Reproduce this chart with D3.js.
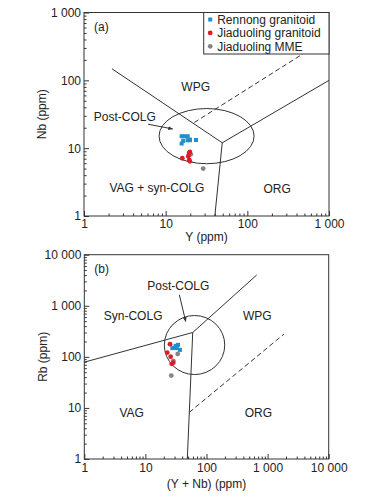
<!DOCTYPE html>
<html>
<head>
<meta charset="utf-8">
<script src="https://cdn.jsdelivr.net/npm/d3@7"></script>
<style>
  body { margin: 0; background: #fff; }
  svg { display: block; font-family: "Liberation Sans", Arial, sans-serif; }
</style>
</head>
<body>
<div id="chart"></div>
<script>
// ---- data ----
const seriesNames = ['Rennong granitoid', 'Jiaduoling granitoid', 'Jiaduoling MME'];

// panel (a): Y (ppm) vs Nb (ppm)
const rennongA = [[15.7, 15], [16.9, 15], [18.6, 15], [19.8, 13.4], [15.7, 11.7],
  [16.4, 12.8], [18.6, 13.1], [19.8, 13.1], [23.5, 13.2]];
const jiaduolingA = [[16, 7.1], [19.4, 8.5], [19.8, 8.8], [18.9, 7.6], [19.4, 6.7], [19.8, 6.4]];
const mmeA = [[20.3, 8.1], [28.8, 5.0]];

// panel (b): (Y + Nb) (ppm) vs Rb (ppm)
const rennongB = [[27.6, 148], [29.5, 150], [31.3, 164], [32.5, 148], [34.2, 172], [36.8, 137]];
const jiaduolingB = [[25.3, 177], [22.8, 121], [25.9, 101], [26.9, 73], [28.6, 77]];
const mmeB = [[33.8, 114], [28.6, 83.5], [26.5, 43]];

// field boundaries
const solidA = [
  [[2.2, 148], [49.3, 12]],
  [[49.3, 12], [1000, 100]],
  [[49.3, 12], [40, 1]],
];
const dashedA = [[22.4, 23.9], [1000, 430]];
const ellipseA = { xMin: 8.3, xMax: 121, yMin: 5.9, yMax: 38.4 };
const arrowA = [[6.1, 22.5], [12.2, 19.2]];

const solidB = [
  [[1, 78.7], [59.5, 300]],
  [[59.5, 300], [663, 4000]],
  [[59.5, 300], [48.5, 1]],
];
const dashedB = [[52.3, 8.2], [1854, 279]];
const ellipseB = { xMin: 20.4, xMax: 199, yMin: 45, yMax: 645 };
const arrowB = [[35.9, 1643], [45.7, 492]];

const fieldLabelsA = [
  { text: 'WPG', x: 23.3, y: 81.5 },
  { text: 'VAG + syn-COLG', x: 7.8, y: 2.6 },
  { text: 'ORG', x: 232, y: 2.55 },
  { text: 'Post-COLG', x: 3.16, y: 28.9 },
];
const fieldLabelsB = [
  { text: 'Syn-COLG', x: 6.3, y: 637 },
  { text: 'WPG', x: 678, y: 637 },
  { text: 'VAG', x: 5.97, y: 8.1 },
  { text: 'ORG', x: 705, y: 8.1 },
  { text: 'Post-COLG', x: 34.5, y: 2466 },
];

const ticksA_X = [1, 10, 100, 1000];
const ticksA_Y = [1, 10, 100, 1000];
const ticksB_X = [1, 10, 100, 1000, 10000];
const ticksB_Y = [1, 10, 100, 1000, 10000];

// ---- drawing ----
const colors = ['#1e8fd2', '#dc1e24', '#858585'];
const lineColor = '#333';
const textColor = '#222';
const W = 365;
const H = 498;

const svg = d3.select('#chart').append('svg')
  .attr('width', W)
  .attr('height', H);

svg.append('defs').append('marker')
  .attr('id', 'arrowhead')
  .attr('viewBox', '0 0 10 10')
  .attr('refX', 9)
  .attr('refY', 5)
  .attr('markerWidth', 5)
  .attr('markerHeight', 5)
  .attr('orient', 'auto')
  .append('path')
  .attr('d', 'M0,1L10,5L0,9Z')
  .attr('fill', lineColor);

const fmt = (d) => d3.format(',')(d).replace(/,/g, ' ');

function minorTicks(domain) {
  const out = [];
  for (let p = domain[0]; p < domain[1]; p *= 10) {
    for (let k = 2; k <= 9; k++) out.push(p * k);
  }
  return out;
}

function drawPanel(cfg) {
  const x = d3.scaleLog().domain(cfg.xDomain).range([cfg.left, cfg.right]);
  const y = d3.scaleLog().domain(cfg.yDomain).range([cfg.bottom, cfg.top]);
  const g = svg.append('g');

  // x axis
  g.append('g')
    .attr('transform', `translate(0,${cfg.bottom})`)
    .call(d3.axisBottom(x).tickValues(minorTicks(cfg.xDomain)).tickSize(-2.5).tickFormat(''))
    .call((a) => a.select('.domain').remove());
  g.append('g')
    .attr('transform', `translate(0,${cfg.bottom})`)
    .call(d3.axisBottom(x).tickValues(cfg.xTicks).tickSize(-5).tickPadding(cfg.xPad).tickFormat(fmt))
    .call((a) => a.select('.domain').remove());

  // y axis
  g.append('g')
    .attr('transform', `translate(${cfg.left},0)`)
    .call(d3.axisLeft(y).tickValues(minorTicks(cfg.yDomain)).tickSize(-2.5).tickFormat(''))
    .call((a) => a.select('.domain').remove());
  g.append('g')
    .attr('transform', `translate(${cfg.left},0)`)
    .call(d3.axisLeft(y).tickValues(cfg.yTicks).tickSize(-5).tickPadding(3).tickFormat(fmt))
    .call((a) => a.select('.domain').remove());

  g.selectAll('.tick line').attr('stroke', lineColor);
  g.selectAll('.tick text')
    .attr('fill', textColor)
    .style('font-size', '12px')
    .style('font-family', '"Liberation Sans", Arial, sans-serif');

  // frame
  g.append('rect')
    .attr('x', cfg.left)
    .attr('y', cfg.top)
    .attr('width', cfg.right - cfg.left)
    .attr('height', cfg.bottom - cfg.top)
    .attr('fill', 'none')
    .attr('stroke', lineColor)
    .attr('stroke-width', 1);

  const line = d3.line().x((d) => x(d[0])).y((d) => y(d[1]));

  // ellipse / circle field
  const e = cfg.ellipse;
  g.append('ellipse')
    .attr('cx', (x(e.xMin) + x(e.xMax)) / 2)
    .attr('cy', (y(e.yMin) + y(e.yMax)) / 2)
    .attr('rx', (x(e.xMax) - x(e.xMin)) / 2)
    .attr('ry', (y(e.yMin) - y(e.yMax)) / 2)
    .attr('fill', 'none')
    .attr('stroke', lineColor)
    .attr('stroke-width', 1);

  // boundaries
  g.selectAll('path.solid')
    .data(cfg.solid)
    .enter()
    .append('path')
    .attr('class', 'solid')
    .attr('d', line)
    .attr('fill', 'none')
    .attr('stroke', lineColor)
    .attr('stroke-width', 1);

  g.append('path')
    .attr('d', line(cfg.dashed))
    .attr('fill', 'none')
    .attr('stroke', lineColor)
    .attr('stroke-width', 1)
    .attr('stroke-dasharray', '5,3');

  // arrow
  g.append('path')
    .attr('d', line(cfg.arrow))
    .attr('fill', 'none')
    .attr('stroke', lineColor)
    .attr('stroke-width', 1)
    .attr('marker-end', 'url(#arrowhead)');

  // field labels
  g.selectAll('text.field')
    .data(cfg.labels)
    .enter()
    .append('text')
    .attr('class', 'field')
    .attr('x', (d) => x(d.x))
    .attr('y', (d) => y(d.y))
    .attr('dy', '0.35em')
    .attr('text-anchor', 'middle')
    .attr('fill', textColor)
    .style('font-size', '12px')
    .text((d) => d.text);

  // points: MME, then Rennong, then Jiaduoling on top
  g.selectAll('circle.mme')
    .data(cfg.mme)
    .enter()
    .append('circle')
    .attr('class', 'mme')
    .attr('cx', (d) => x(d[0]))
    .attr('cy', (d) => y(d[1]))
    .attr('r', 2.4)
    .attr('fill', colors[2]);

  g.selectAll('rect.rennong')
    .data(cfg.rennong)
    .enter()
    .append('rect')
    .attr('class', 'rennong')
    .attr('x', (d) => x(d[0]) - 2)
    .attr('y', (d) => y(d[1]) - 2)
    .attr('width', 4)
    .attr('height', 4)
    .attr('fill', colors[0]);

  g.selectAll('circle.jiad')
    .data(cfg.jiaduoling)
    .enter()
    .append('circle')
    .attr('class', 'jiad')
    .attr('cx', (d) => x(d[0]))
    .attr('cy', (d) => y(d[1]))
    .attr('r', 2.4)
    .attr('fill', colors[1]);

  // panel letter
  g.append('text')
    .attr('x', cfg.left + 10)
    .attr('y', cfg.top + 14)
    .attr('dy', '0.35em')
    .attr('fill', textColor)
    .style('font-size', '12px')
    .text(cfg.letter);

  // axis titles
  g.append('text')
    .attr('x', (cfg.left + cfg.right) / 2)
    .attr('y', cfg.bottom + cfg.xTitleOffset)
    .attr('text-anchor', 'middle')
    .attr('fill', textColor)
    .style('font-size', '12px')
    .text(cfg.xTitle);

  g.append('text')
    .attr('transform', `translate(${cfg.left - 42},${(cfg.top + cfg.bottom) / 2}) rotate(-90)`)
    .attr('text-anchor', 'middle')
    .attr('dy', '0.35em')
    .attr('fill', textColor)
    .style('font-size', '12px')
    .text(cfg.yTitle);

  return g;
}

const gA = drawPanel({
  left: 84, right: 329, top: 12.5, bottom: 216,
  xDomain: [1, 1000], yDomain: [1, 1000],
  xTicks: ticksA_X, yTicks: ticksA_Y, xPad: 3, xTitleOffset: 25,
  solid: solidA, dashed: dashedA, ellipse: ellipseA, arrow: arrowA,
  labels: fieldLabelsA,
  rennong: rennongA, jiaduoling: jiaduolingA, mme: mmeA,
  letter: '(a)', xTitle: 'Y (ppm)', yTitle: 'Nb (ppm)',
});

drawPanel({
  left: 84.3, right: 328.7, top: 254.7, bottom: 459,
  xDomain: [1, 10000], yDomain: [1, 10000],
  xTicks: ticksB_X, yTicks: ticksB_Y, xPad: 4.5, xTitleOffset: 29,
  solid: solidB, dashed: dashedB, ellipse: ellipseB, arrow: arrowB,
  labels: fieldLabelsB,
  rennong: rennongB, jiaduoling: jiaduolingB, mme: mmeB,
  letter: '(b)', xTitle: '(Y + Nb) (ppm)', yTitle: 'Rb (ppm)',
});

// legend in panel (a), top-right corner
const legW = 125.3;
const legH = 41.5;
const leg = gA.append('g').attr('transform', `translate(${329 - legW},12.5)`);
leg.append('rect')
  .attr('width', legW)
  .attr('height', legH)
  .attr('fill', '#fff')
  .attr('stroke', lineColor)
  .attr('stroke-width', 1);

const rows = leg.selectAll('g.row')
  .data(seriesNames)
  .enter()
  .append('g')
  .attr('class', 'row')
  .attr('transform', (d, i) => `translate(6.5,${7 + i * 13.4})`);

rows.each(function (d, i) {
  const r = d3.select(this);
  if (i === 0) {
    r.append('rect').attr('x', -2).attr('y', -2).attr('width', 4).attr('height', 4).attr('fill', colors[0]);
  } else {
    r.append('circle').attr('r', 2.4).attr('fill', colors[i]);
  }
});

rows.append('text')
  .attr('x', 7)
  .attr('dy', '0.35em')
  .attr('fill', textColor)
  .style('font-size', '12px')
  .text((d) => d);
</script>
</body>
</html>
